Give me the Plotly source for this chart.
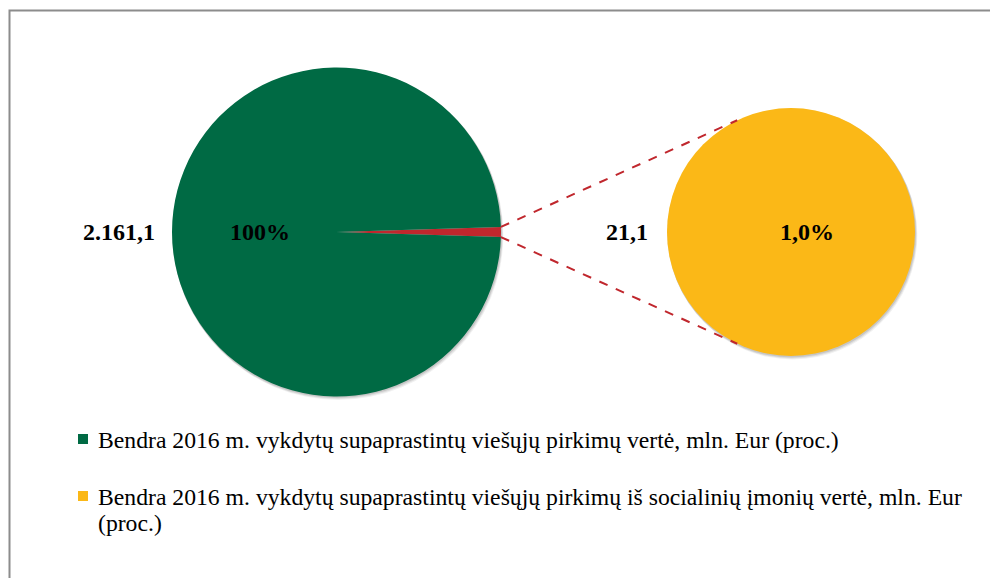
import math
import plotly.graph_objects as go

# ---- data ----
categories = [
    "Bendra 2016 m. vykdytų supaprastintų viešųjų pirkimų vertė, mln. Eur (proc.)",
    "Bendra 2016 m. vykdytų supaprastintų viešųjų pirkimų iš socialinių įmonių vertė, mln. Eur (proc.)",
]
values_mln = [2161.1, 21.1]
value_labels = ["2.161,1", "21,1"]
percent_labels = ["100%", "1,0%"]
colors = ["#006A44", "#FBB817"]
slice_color = "#C0272D"

OFF = 8  # page body margin
W, H = 998 - OFF, 578 - OFF
FONT = "Liberation Serif"

# geometry (pixels in screenshot)
big_c, big_r = (336.5, 232.0), 164.5
small_c, small_r = (791.0, 232.0), 124.0


def px(x):
    return (x - OFF) / W


def py(y):
    return 1 - (y - OFF) / H


def domain(c, r):
    return dict(x=[px(c[0] - r), px(c[0] + r)], y=[py(c[1] + r), py(c[1] - r)])


total, social = values_mln
share_deg = social / total * 360.0

fig = go.Figure()

# soft shadows
for k, op in [(3, 0.06), (2, 0.08), (1, 0.10)]:
    for c, r in [(big_c, big_r), (small_c, small_r)]:
        fig.add_trace(go.Pie(
            values=[1], labels=["s"], domain=domain((c[0] + k * 0.6, c[1] + k), r + 0.5),
            marker=dict(colors=[f"rgba(0,0,0,{op})"], line=dict(width=0)),
            textinfo="none", hoverinfo="skip", showlegend=False, sort=False))

fig.add_trace(go.Pie(
    values=[social, total - social], labels=["social", "other"],
    domain=domain(big_c, big_r), sort=False, direction="clockwise",
    rotation=90 - share_deg / 2,
    marker=dict(colors=[slice_color, colors[0]], line=dict(width=0)),
    textinfo="none", showlegend=False))

fig.add_trace(go.Pie(
    values=[social], labels=["social"], domain=domain(small_c, small_r), sort=False,
    marker=dict(colors=[colors[1]], line=dict(width=0)),
    textinfo="none", showlegend=False))

shapes = []
# frame (right and bottom edges fall outside the visible area)
shapes.append(dict(type="rect", xref="paper", yref="paper",
                   x0=px(9.5), x1=1.05, y0=-0.05, y1=py(10.5),
                   line=dict(color="#8C8C8C", width=2), fillcolor="rgba(0,0,0,0)", layer="below"))

# connector lines
half = math.radians(share_deg / 2)
conn_ang = math.radians(115.7)
for s in (1, -1):
    x0 = big_c[0] + big_r * math.cos(half)
    y0 = big_c[1] - s * big_r * math.sin(half)
    x1 = small_c[0] + small_r * math.cos(conn_ang)
    y1 = small_c[1] - s * small_r * math.sin(conn_ang)
    shapes.append(dict(type="line", xref="paper", yref="paper",
                       x0=px(x0), y0=py(y0), x1=px(x1), y1=py(y1),
                       line=dict(color=slice_color, width=2, dash="dash")))

# legend squares
legend_y = [439, 496]
for col, ly in zip(colors, legend_y):
    shapes.append(dict(type="rect", xref="paper", yref="paper",
                       x0=px(78), x1=px(88), y0=py(ly + 5), y1=py(ly - 5),
                       line=dict(width=0), fillcolor=col))

annotations = []
lab_font = dict(family=FONT, size=24, color="black")
for x, t in [(119, value_labels[0]), (260, percent_labels[0]),
             (627, value_labels[1]), (807, percent_labels[1])]:
    annotations.append(dict(x=px(x), y=py(232), text=f"<b>{t}</b>", showarrow=False,
                            xref="paper", yref="paper", font=lab_font,
                            xanchor="center", yanchor="middle"))

leg_font = dict(family=FONT, size=23.7, color="black")
first = categories[0]
second_l1, second_l2 = categories[1].rsplit(" ", 1)
leg_lines = [(first, 440), (second_l1, 497), (second_l2, 523)]
for t, ly in leg_lines:
    annotations.append(dict(x=px(96), y=py(ly), text=t, showarrow=False,
                            xref="paper", yref="paper", xanchor="left", yanchor="middle",
                            align="left", font=leg_font))

fig.update_layout(
    width=W, height=H,
    margin=dict(l=0, r=0, t=0, b=0),
    paper_bgcolor="white", plot_bgcolor="white",
    shapes=shapes, annotations=annotations,
    showlegend=False,
)

fig.write_html("out.html")
